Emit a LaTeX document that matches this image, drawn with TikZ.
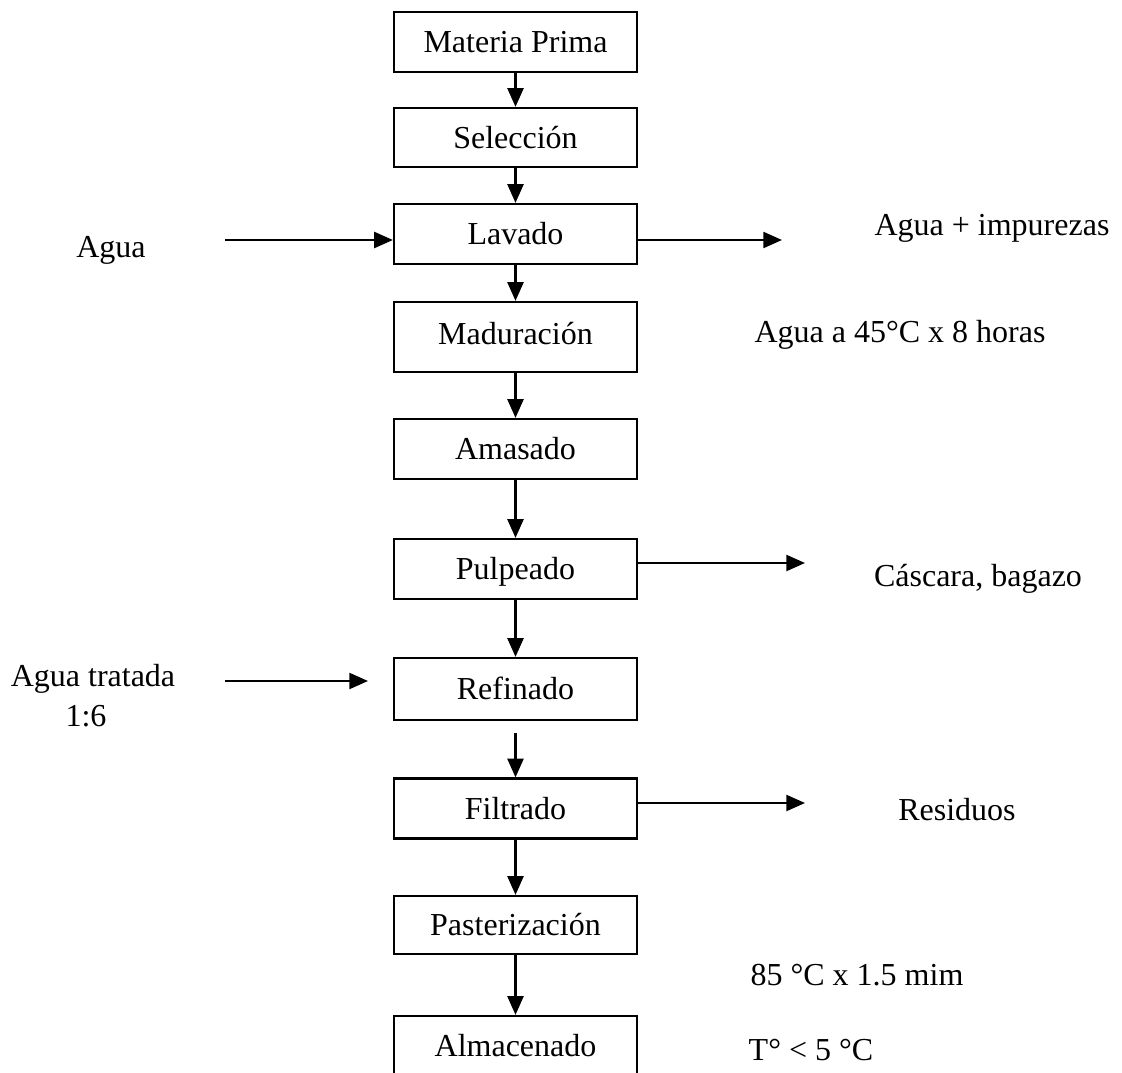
\documentclass[tikz,border=0pt]{standalone}
\usepackage{fontspec}
\setmainfont{Liberation Serif}
\usetikzlibrary{arrows.meta}
\begin{document}
\begin{tikzpicture}[x=0.75pt,y=-0.75pt,
  every node/.style={font=\fontsize{24}{28}\selectfont, text height=15.8pt, text depth=0pt, inner sep=0pt},
  stepbox/.style={draw, line width=1.7pt, minimum width=182.25pt, minimum height=45pt},
  arr/.style={line width=1.7pt, -{Triangle[length=14pt,width=12pt]}},
  lbl/.style={anchor=center}]
\useasboundingbox (0,0) rectangle (1122,1073);
\clip (0,0) rectangle (1122,1073);
% process boxes
\node[stepbox] (mp)  at (515.5,42)   {Materia Prima};
\node[stepbox, minimum height=44.25pt] (sel) at (515.5,137.5) {Selección};
\node[stepbox] (lav) at (515.5,234)  {Lavado};
\node[stepbox, minimum height=52.5pt, text depth=5pt] (mad) at (515.5,337) {Maduración};
\node[stepbox] (ama) at (515.5,449)  {Amasado};
\node[stepbox] (pul) at (515.5,569)  {Pulpeado};
\node[stepbox, minimum height=46.5pt] (ref) at (515.5,689) {Refinado};
\node[stepbox] (fil) at (515.5,808.5) {Filtrado};
\node[stepbox, minimum height=43.5pt] (pas) at (515.5,925) {Pasterización};
\node[stepbox] (alm) at (515.5,1046) {Almacenado};
% main flow
\draw[arr] (mp) -- (sel);
\draw[arr] (sel) -- (lav);
\draw[arr] (lav) -- (mad);
\draw[arr] (mad) -- (ama);
\draw[arr] (ama) -- (pul);
\draw[arr] (pul) -- (ref);
\draw[arr, shorten <=9pt] (ref) -- (fil);
\draw[arr] (fil) -- (pas);
\draw[arr] (pas) -- (alm);
% side labels
\node[lbl] (agua) at (111,247) {Agua};
\node[lbl] (imp) at (992,225) {Agua + impurezas};
\node[lbl] (mcond) at (900,332) {Agua a 45°C x 8 horas};
\node[lbl] (casc) at (978,576) {Cáscara, bagazo};
\node[lbl] (atr) at (93,676) {Agua tratada};
\node[lbl] (rat) at (86,716) {1:6};
\node[lbl] (res) at (957,810) {Residuos};
\node[lbl] (pcond) at (857,975) {85 °C x 1.5 mim};
\node[lbl] (acond) at (811,1050) {T° < 5 °C};
% side connectors
\coordinate (aguaS) at (225,240);
\draw[arr] (aguaS) -- (aguaS -| lav.west);
\coordinate (impE) at (782,240);
\draw[arr] (impE -| lav.east) -- (impE);
\coordinate (cascE) at (805,563);
\draw[arr] (cascE -| pul.east) -- (cascE);
\coordinate (atrS) at (225,681);
\coordinate (atrE) at (368,681);
\draw[arr] (atrS) -- (atrE);
\coordinate (resE) at (805,803);
\draw[arr] (resE -| fil.east) -- (resE);
\end{tikzpicture}
\end{document}
